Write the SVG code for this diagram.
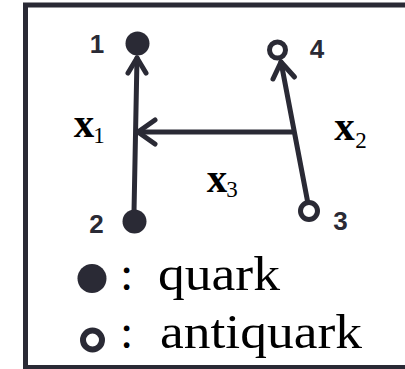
<svg xmlns="http://www.w3.org/2000/svg" width="405" height="369" viewBox="0 0 405 369">
<style>
.ln{stroke:#2a2a35;stroke-width:5;fill:none;stroke-linecap:round;stroke-linejoin:round}
.q{fill:#2a2a35}
.aq{fill:#fff;stroke:#2a2a35;stroke-width:5}
.num{font-family:"Liberation Sans",Arial,sans-serif;font-weight:bold;font-size:26px;fill:#2a2a35;text-anchor:middle}
.mx{font-family:"Liberation Serif","Times New Roman",serif;font-weight:bold;font-size:41px;fill:#000;text-anchor:middle}
.ms{font-family:"Liberation Serif","Times New Roman",serif;font-size:23px;fill:#000;text-anchor:middle}
.lg{font-family:"Liberation Serif","Times New Roman",serif;font-size:48px;fill:#000}
</style>
<rect x="25.5" y="5" width="400" height="362.5" fill="#fff" stroke="#2a2a35" stroke-width="5"/>
<g id="connectors">
  <g id="e2-1"><line class="ln" x1="134" y1="212" x2="137" y2="58"/><polyline class="ln" points="128,73 137,58 146,73"/></g>
  <g id="e3-4"><line class="ln" x1="307.5" y1="201" x2="281" y2="62"/><polyline class="ln" points="273,79 281,62 294.5,77"/></g>
  <g id="e-x3"><line class="ln" x1="292" y1="132" x2="138" y2="132"/><polyline class="ln" points="155,120 138,132 155,144"/></g>
</g>
<g id="n1"><circle class="q" cx="137.5" cy="43.5" r="12"/><text class="num" x="97" y="53">1</text></g>
<g id="n2"><circle class="q" cx="134.5" cy="221.5" r="12"/><text class="num" x="96.5" y="233">2</text></g>
<g id="n3"><circle class="aq" cx="309" cy="211" r="8.5"/><text class="num" x="340.5" y="230">3</text></g>
<g id="n4"><circle class="aq" cx="277.5" cy="50" r="8"/><text class="num" x="317" y="58">4</text></g>
<g id="labels">
  <text class="mx" x="84" y="137">x</text><text class="ms" x="99" y="143">1</text>
  <text class="mx" x="344.5" y="140">x</text><text class="ms" x="361" y="148">2</text>
  <text class="mx" x="217" y="192">x</text><text class="ms" x="232" y="197">3</text>
</g>
<g id="legend">
  <circle class="q" cx="92" cy="278.5" r="14.5"/>
  <text class="lg" y="290"><tspan x="120">:</tspan><tspan x="158" textLength="122" lengthAdjust="spacingAndGlyphs">quark</tspan></text>
  <circle fill="#fff" stroke="#2a2a35" stroke-width="6" cx="92.5" cy="340" r="9.5"/>
  <text class="lg" y="348"><tspan x="120">:</tspan><tspan x="160" textLength="202" lengthAdjust="spacingAndGlyphs">antiquark</tspan></text>
</g>
</svg>
